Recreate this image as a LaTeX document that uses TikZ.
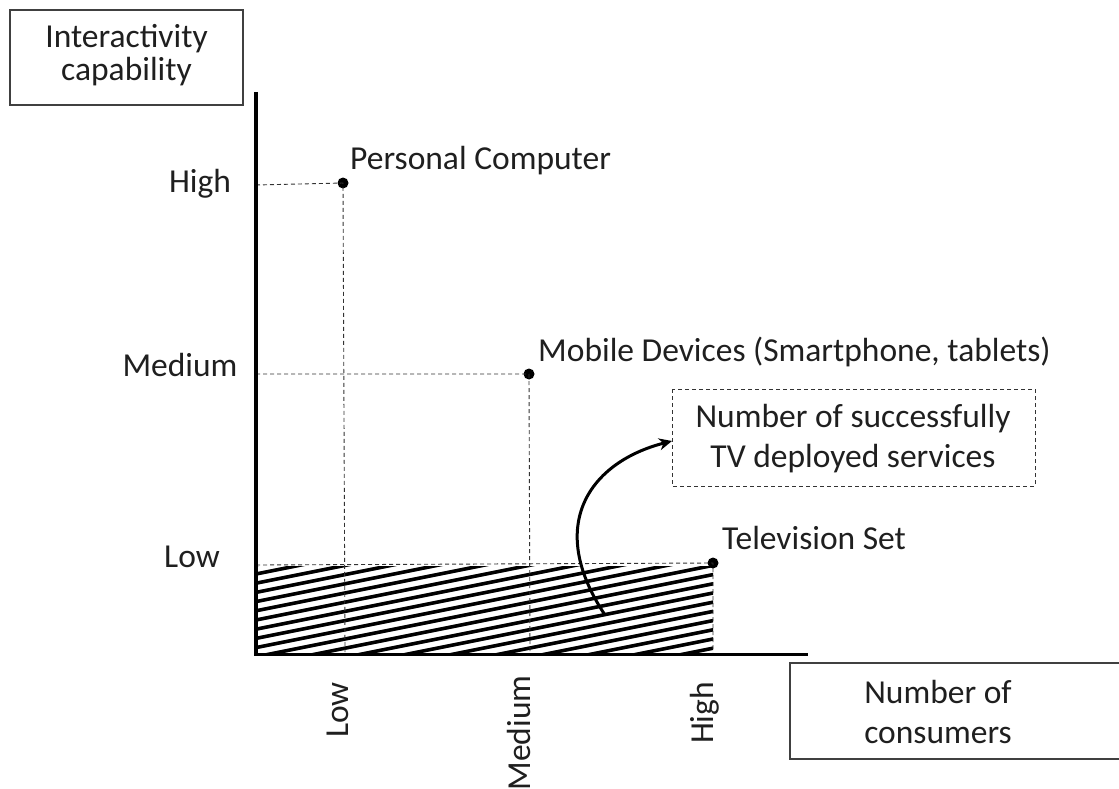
\documentclass[tikz,border=0pt]{standalone}
\usepackage{fontspec}
\setmainfont{Carlito}
\usetikzlibrary{arrows.meta}
\begin{document}
\begin{tikzpicture}[x=1pt,y=-1pt,
  lbl/.style={font=\fontsize{33.5}{38}\selectfont, inner sep=0pt, text=black!88, anchor=base},
  lblw/.style={lbl, anchor=base west},
  framebox/.style={draw=black!75, line width=1.5pt},
  guide/.style={draw=black!80, line width=0.9pt, dash pattern=on 4pt off 3pt},
  axis/.style={draw=black, line width=3.5pt},
  dot/.style={circle, fill=black, inner sep=0pt, minimum size=11pt}]
\useasboundingbox (0,0) rectangle (1119,789);

% axis titles
\draw[framebox] (10,10) rectangle (243,105);
\node[lbl] (ytitleA) at (126.5,48) {Interactivity};
\node[lbl] (ytitleB) at (126.5,81) {capability};
\draw[framebox] (790,663) rectangle (1125,759);
\node[lbl] (xtitleA) at (938,703) {Number of};
\node[lbl] (xtitleB) at (938,743) {consumers};

% hatched area under the television level
\begin{scope}
  \clip (256,566) rectangle (713,652);
  \foreach \k in {0,...,70} {
    \draw[line width=3.6pt] (250,{566+9.2*\k}) -- (720,{566+9.2*\k-94});
  }
\end{scope}

% data points
\node[dot] (pc) at (343,183) {};
\node[dot] (mob) at (529,374) {};
\node[dot] (tv) at (713,563) {};
\coordinate (ya) at (256,92);
\coordinate (o) at (256,654);
\coordinate (xa) at (808,654);

% guide lines
\draw[guide] (256,185) -- (pc.center) -- (345,652);
\draw[guide] (256,374) -- (mob.center) -- (530,652);
\draw[guide] (256,565) -- (tv.center) -- (713,652);

% axes
\draw[axis] (ya) -- (o);
\draw[line width=3pt] (254,654) -- (xa);

% level labels
\node[lbl] (yh) at (200,193) {High};
\node[lbl] (ym) at (180,376) {Medium};
\node[lbl] (yl) at (192,567) {Low};
\node[lbl, rotate=90] (xl) at (348,710) {Low};
\node[lbl, rotate=90] (xm) at (530,733) {Medium};
\node[lbl, rotate=90] (xh) at (713,713) {High};

% point labels
\node[lblw] (pcl) at (350,169) {Personal Computer};
\node[lblw] (mobl) at (538,361) {Mobile Devices (Smartphone, tablets)};
\node[lblw] (tvl) at (722,549) {Television Set};

% annotation
\draw[guide] (672,389) rectangle (1035,486);
\coordinate (note) at (672,441);
\node[lbl] (n1) at (853,427) {Number of successfully};
\node[lbl] (n2) at (853,467) {TV deployed services};
\coordinate (src) at (605,615);
\draw[line width=3pt, -{Stealth[length=13pt,width=12pt]}]
  (src) .. controls (545,525) and (590,462) .. (note);
\end{tikzpicture}
\end{document}
